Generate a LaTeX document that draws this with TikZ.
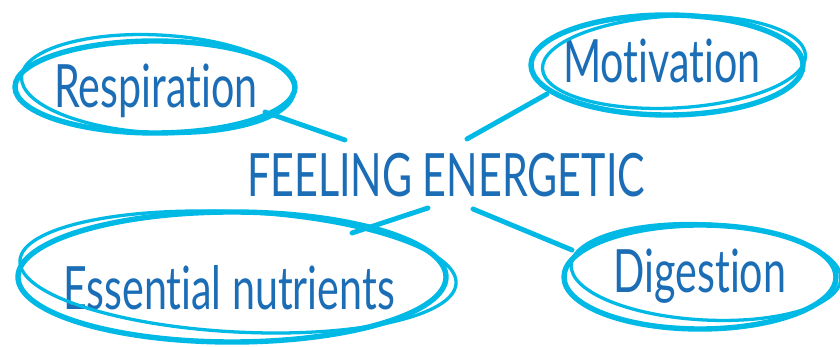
\documentclass[tikz,border=0pt]{standalone}
\usepackage{fontspec}
\newfontfamily\hand[FakeStretch=0.69, Ligatures={NoCommon}]{Lato}
\usetikzlibrary{shapes.geometric}
\definecolor{cy}{HTML}{00B9E5}
\definecolor{tb}{HTML}{1B6DB6}
\tikzset{
  ring/.style={ellipse, draw=cy, line width=4.6pt, inner sep=0pt},
  ring2/.style={ellipse, draw=cy, line width=2.8pt, inner sep=0pt},
  word/.style={text=tb, font=\hand\fontsize{51}{60}\selectfont, anchor=base, inner sep=0pt},
  link/.style={draw=cy, line width=4.2pt, line cap=round}
}
\begin{document}
\begin{tikzpicture}[x=0.03cm, y=-0.03cm]
\useasboundingbox (0,0) rectangle (840,347);
% texts
\node[word] (center) at (446,197) {FEELING ENERGETIC};
\node[word] (resp) at (156,108) {Respiration};
\node[word] (moti) at (662,83) {Motivation};
\node[word] (ess) at (229,310) {Essential nutrients};
\node[word] (dig) at (700,293) {Digestion};
% rings
\node[ring, minimum width=8.4cm, minimum height=2.76cm] (rA) at (155,87) {};
\node[ring2, minimum width=8.2cm, minimum height=2.94cm, rotate=-3] (rA2) at (158,84) {};
\node[ring, minimum width=8.16cm, minimum height=3.0cm] (rB) at (667,65) {};
\node[ring2, minimum width=7.9cm, minimum height=2.76cm, rotate=3] (rB2) at (674,62) {};
\node[ring, minimum width=12.84cm, minimum height=3.9cm] (rC) at (232,277) {};
\node[ring2, minimum width=13.1cm, minimum height=3.6cm, rotate=-3] (rC2) at (238,272) {};
\node[ring, minimum width=8.16cm, minimum height=3.12cm] (rD) at (700,277) {};
\node[ring2, minimum width=8.1cm, minimum height=2.88cm, rotate=-3] (rD2) at (706,272) {};
% connector ends
\coordinate (eA) at (265,112);
\coordinate (tA) at (345,140);
\coordinate (eB) at (547,94);
\coordinate (tB) at (467,139);
\coordinate (eC) at (352,233);
\coordinate (tC) at (428,208);
\coordinate (eD) at (572,250);
\coordinate (tD) at (473,209);
\draw[link] (eA) -- (tA);
\draw[link] (eB) -- (tB);
\draw[link] (eC) -- (tC);
\draw[link] (tD) -- (eD);
\end{tikzpicture}
\end{document}
